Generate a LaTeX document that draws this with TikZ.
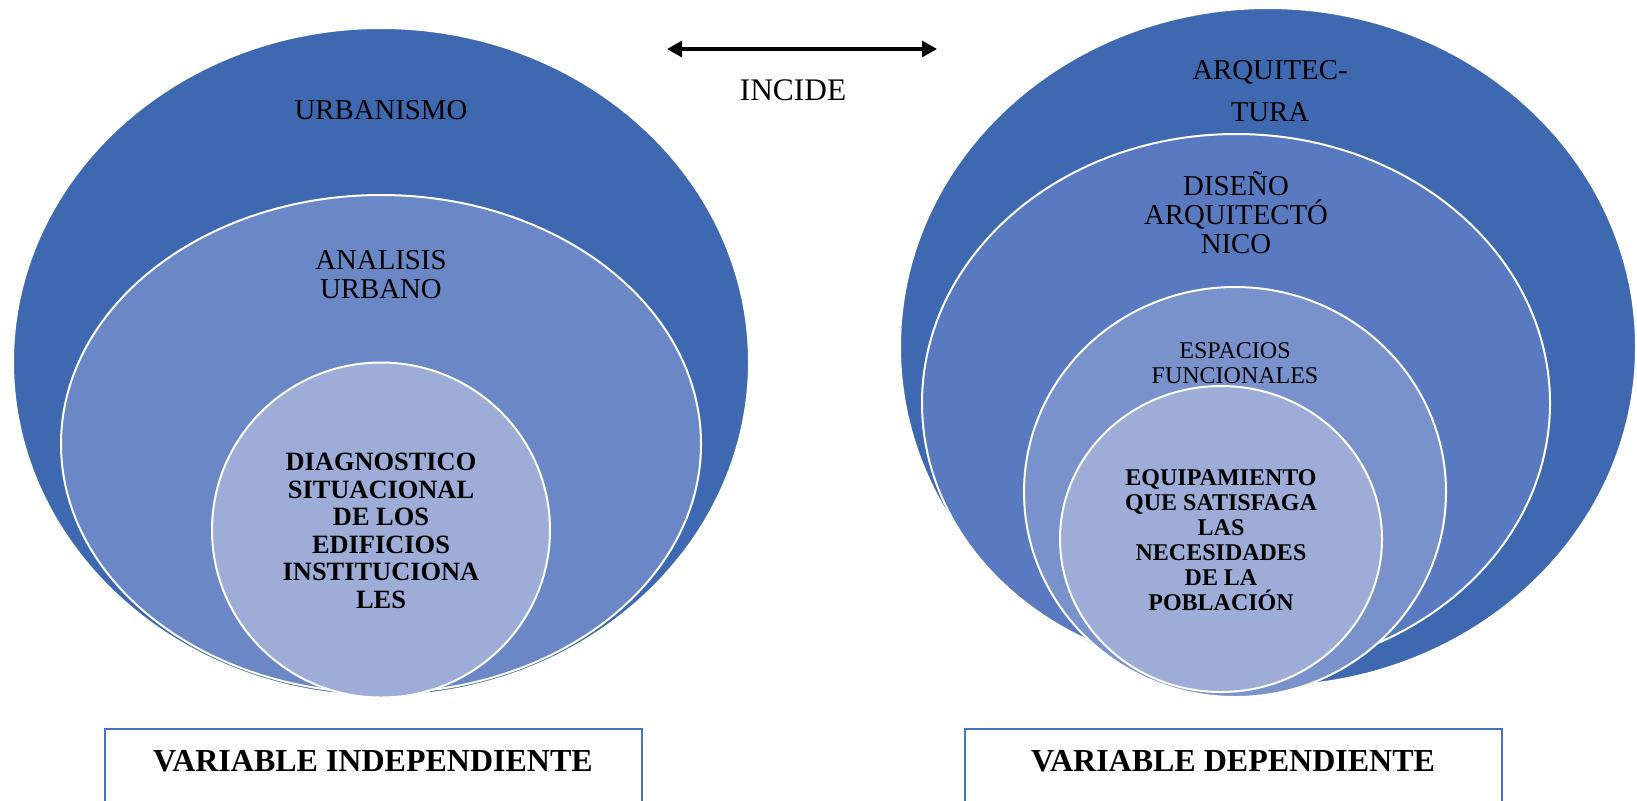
\documentclass[tikz,border=0pt]{standalone}
\usepackage{fontspec}
\setmainfont{Liberation Serif}
\usetikzlibrary{positioning, arrows.meta, shapes.geometric}

\definecolor{ringA}{RGB}{62,104,176}
\definecolor{ringB}{RGB}{106,136,198}
\definecolor{ringBr}{RGB}{89,122,193}
\definecolor{ringC}{RGB}{122,146,204}
\definecolor{ringD}{RGB}{157,173,216}
\definecolor{boxline}{RGB}{68,114,196}

\begin{document}
\begin{tikzpicture}[x=0.5pt, y=-0.5pt,
          ring/.style={ellipse, draw=white, line width=1pt, inner sep=0pt},
          lbl/.style={align=center, inner sep=0pt, font=\fontsize{14.4}{14.5}\selectfont},
          core/.style={align=center, inner sep=0pt, font=\bfseries\fontsize{13.2}{13.75}\selectfont},
          small/.style={align=center, inner sep=0pt, font=\fontsize{12}{12.5}\selectfont},
          varbox/.style={draw=boxline, line width=1pt, inner sep=0pt, anchor=north, minimum width=268.5pt,
                         text height=21.25pt, text depth=22pt, font=\bfseries\fontsize{16}{18}\selectfont},
          ar/.style={{Triangle[length=7.5pt,width=8pt]}-{Triangle[length=7.5pt,width=8pt]}, line width=1.6pt}]
        \useasboundingbox (0,0) rectangle (1637,800);
        % independent variable
        \node[ring, fill=ringA, minimum width=368pt, minimum height=334pt] (urb) at (381,362) {};
        \node[ring, fill=ringB, minimum width=320pt, minimum height=249pt] (anal) at (381,444) {};
        \node[ring, fill=ringD, minimum width=169pt, minimum height=167.5pt] (diag) at (381,530) {};
        \node[lbl] (urbt) at (381,110) {URBANISMO};
        \node[lbl] (analt) at (381,275) {ANALISIS\\URBANO};
        \node[core] (diagt) at (381,531) {DIAGNOSTICO\\SITUACIONAL\\DE LOS\\EDIFICIOS\\INSTITUCIONA\\LES};
        % dependent variable
        \node[ring, fill=ringA, minimum width=368pt, minimum height=339pt] (arq) at (1268,347) {};
        \node[ring, fill=ringBr, minimum width=314pt, minimum height=269pt] (dis) at (1236,403) {};
        \node[ring, fill=ringC, minimum width=211pt, minimum height=205pt] (esp) at (1235,492) {};
        \node[ring, fill=ringD, minimum width=161pt, minimum height=153pt] (equ) at (1221,539) {};
        \node[lbl, font=\fontsize{14.4}{21}\selectfont] (arqt) at (1270,91) {ARQUITEC-\\TURA};
        \node[lbl] (dist) at (1236,213) {DISEÑO\\ARQUITECTÓ\\NICO};
        \node[small] (espt) at (1235,363) {ESPACIOS\\FUNCIONALES};
        \node[core, font=\bfseries\fontsize{12}{12.5}\selectfont] (equt) at (1221,540) {EQUIPAMIENTO\\QUE SATISFAGA\\LAS\\NECESIDADES\\DE LA\\POBLACIÓN};
        % link
        \coordinate (incl) at (667,49);
        \coordinate (incr) at (937,49);
        \draw[ar] (incl) -- (incr);
        \node[lbl, font=\fontsize{15.7}{16}\selectfont] (inc) at (793,90) {INCIDE};
        % captions
        \node[varbox] (vi) at (373,728) {VARIABLE INDEPENDIENTE};
        \node[varbox] (vd) at (1233,728) {VARIABLE DEPENDIENTE};
      \end{tikzpicture}
\end{document}
